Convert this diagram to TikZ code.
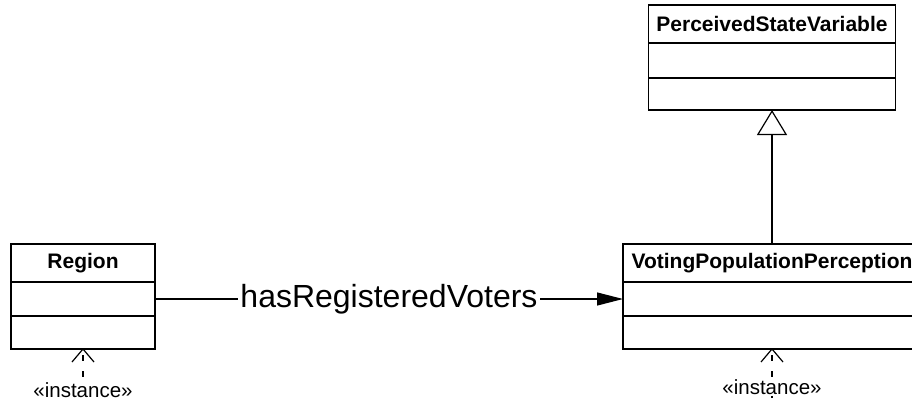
\documentclass[tikz,border=0pt]{standalone}
\usepackage{fontspec}
\setmainfont{Liberation Sans}
\usetikzlibrary{arrows.meta}
\tikzset{
  cls/.style={draw, line width=1.6pt, inner sep=0pt, outer sep=0pt, font=\fontsize{21}{25}\selectfont\bfseries},
  conn/.style={line width=1.2pt},
  instdash/.style={conn, dash pattern=on 6pt off 10pt, dash phase=10pt},
  instlbl/.style={inner sep=1pt, font=\fontsize{20.5}{24}\selectfont},
}
\begin{document}
\begin{tikzpicture}[x=1pt,y=-1pt]
\useasboundingbox (0,0) rectangle (912,402);
\clip (0,0) rectangle (912,402);
% Region
\node[cls, minimum width=144pt, minimum height=38pt] (regt) at (83,263) {Region};
\node[cls, minimum width=144pt, minimum height=34pt] (rega) at (83,299) {};
\node[cls, minimum width=144pt, minimum height=33pt] (rego) at (83,332.5) {};
% PerceivedStateVariable
\node[cls, minimum width=247pt, minimum height=38pt] (psvt) at (772,24) {PerceivedStateVariable};
\node[cls, minimum width=247pt, minimum height=35pt] (psva) at (772,60.5) {};
\node[cls, minimum width=247pt, minimum height=32pt] (psvo) at (772,94) {};
% VotingPopulationPerception
\node[cls, minimum width=298pt, minimum height=38pt] (vppt) at (772,263) {VotingPopulationPerception};
\node[cls, minimum width=298pt, minimum height=34pt] (vppa) at (772,299) {};
\node[cls, minimum width=298pt, minimum height=33pt] (vppo) at (772,332.5) {};
% association
\draw[conn, -{Triangle[length=26pt,width=13pt]}] (rega.east) -- node[fill=white, inner sep=2pt, font=\fontsize{32}{36}\selectfont] (assoc) {hasRegisteredVoters} (vppa.west);
% generalization
\draw[conn, -{Triangle[open,length=25pt,width=30pt,fill=white]}] (vppt.north) -- (psvo.south);
% instance dependencies
\node[instlbl] (i1) at (83,390) {«instance»};
\node[instlbl] (i2) at (772,387) {«instance»};
\coordinate (i2end) at (772,420);
\draw[instdash] (rego.south) -- (i1.north);
\draw[conn] ([shift={(-11,13)}]rego.south) -- (rego.south) -- ([shift={(11,13)}]rego.south);
\draw[instdash] (vppo.south) -- (i2.north);
\draw[conn] ([shift={(-11,13)}]vppo.south) -- (vppo.south) -- ([shift={(11,13)}]vppo.south);
\draw[instdash, dash phase=4pt] (i2.south) -- (i2end);
\end{tikzpicture}
\end{document}
